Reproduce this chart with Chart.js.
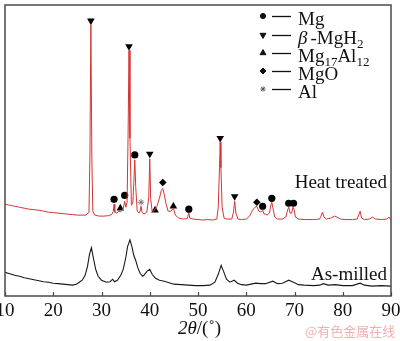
<!DOCTYPE html>
<html>
<head>
<meta charset="utf-8">
<style>
  html, body { margin: 0; padding: 0; background: #fff; }
  #box { width: 400px; height: 341px; }
</style>
</head>
<body>
<div id="box"><canvas id="xrd"></canvas></div>

<script src="https://cdn.jsdelivr.net/npm/chart.js"></script>
<script>
// heat treated pattern (2theta in degrees, intensity in a.u.)
const heatAngle = [10, 11, 12, 13, 14, 15, 16, 17, 18, 19, 20, 21, 22, 23, 24, 25, 26, 26.8, 27.4, 27.6, 27.8, 28.0, 28.2, 28.6,
  29.5, 30.5, 31.5, 32.2, 32.45, 32.6, 32.75, 33.2, 33.6, 33.9, 34.2, 34.5, 34.8, 35.05, 35.3, 35.5, 35.7, 35.9, 36.2, 36.5,
  36.7, 36.9, 37.1, 37.4, 37.8, 38.0, 38.2, 38.4, 38.8, 39.4, 39.8, 40.0, 40.2, 40.5, 40.8, 41.1, 41.5, 42.0, 42.4, 42.7,
  43.0, 43.4, 43.8, 44.4, 44.9, 45.3, 46, 47, 47.8, 48.0, 48.1, 48.3, 49, 50, 51, 52, 53, 53.9, 54.2, 54.45, 54.6, 54.75,
  55.0, 55.4, 56, 57.0, 57.35, 57.6, 57.85, 58.3, 59, 60, 60.7, 61.3, 61.8, 62.2, 62.6, 63.0, 63.4, 63.7, 64.0, 64.3, 64.8,
  65.1, 65.3, 65.5, 65.9, 66.5, 67.5, 68.2, 68.5, 68.8, 69.1, 69.4, 69.7, 69.9, 70.2, 70.8, 72, 73, 74, 75.2, 75.5, 75.8,
  76.1, 76.6, 77.5, 78.3, 78.8, 79.5, 80.5, 82, 83.0, 83.3, 83.6, 83.9, 84.5, 85.5, 86.2, 86.8, 88, 89.2, 89.6, 90];
const heatCounts = [93, 92, 91, 90, 89, 88, 87.5, 87, 86, 85, 84.5, 84, 83.5, 83, 82.5, 82, 82, 82, 85, 140, 275, 140, 86, 82,
  81, 81, 81.5, 83, 86, 93, 85, 84, 86, 85, 87, 89, 96, 90, 95, 160, 249, 160, 92, 95,
  115, 138, 110, 86, 84, 86, 91, 85, 83, 85, 100, 139, 98, 86, 86, 88, 91, 99, 107, 109,
  103, 93, 86, 86, 89, 82, 79, 78, 78.5, 83, 84, 79, 78, 77.5, 77, 77.5, 77, 78, 90, 130, 156, 130,
  90, 79, 78, 78, 85, 96, 84, 78, 77.5, 78, 81, 87, 90, 91, 86, 85, 87, 83, 83, 82, 84,
  92, 95, 90, 80, 78, 78, 80, 86, 90, 84, 84, 90, 88, 80, 78, 77.5, 77.5, 77.5, 78, 81, 85,
  80, 78, 79, 81, 80, 78, 77.5, 77.5, 78, 82, 86, 79, 77.5, 78, 80, 78, 77.5, 78, 80, 77];

// as-milled pattern
const milledAngle = [10, 11, 12, 13, 14, 15, 16, 17, 18, 19, 20, 21, 22, 23, 24, 24.8, 25.4, 26.0, 26.6, 27.1, 27.5, 27.9,
  28.3, 28.8, 29.3, 30.0, 31.0, 31.8, 32.3, 32.7, 33.3, 34.0, 34.5, 35.0, 35.4, 35.9, 36.3, 36.7, 37.1, 37.5, 38.0, 38.5,
  38.8, 39.4, 40.0, 40.5, 41.2, 42, 43, 44, 45, 46.5, 48, 49.5, 51, 52.5, 53.5, 54.2, 54.8, 55.3, 55.9, 56.6, 57.5, 58.2,
  59, 60, 61, 62, 63, 64, 65.5, 66.5, 67.5, 68.8, 69.8, 70.8, 72, 74, 75.2, 76.0, 77, 78.5, 80, 82, 83.6, 84.5, 86, 88, 90];
const milledCounts = [24, 22.5, 21, 20, 18.5, 17.5, 16.5, 15.5, 14.5, 14, 13, 12.5, 12, 11.5, 11, 12, 14, 16, 21, 30, 42, 49,
  39, 27, 20, 16, 14, 14.5, 17, 14.5, 16, 21, 27, 38, 50, 57, 50, 41, 36, 29, 23, 20,
  21, 25, 27, 22, 18, 16, 15, 13.5, 12, 11.5, 11, 10.5, 10.5, 11, 14, 22, 31, 25, 17, 14, 16, 13,
  11.5, 11, 12, 13, 12.5, 12.5, 15, 12.5, 13, 16, 14, 11.5, 11, 10.5, 11, 12.5, 11, 11.5, 10.5, 10.5, 13, 11, 10, 10.5, 10];

// phase markers above the heat treated peaks: [2theta, height]
const mgPeaks = [[32.6, 98], [34.8, 102], [36.9, 143], [48.1, 88], [63.4, 91], [65.3, 99], [68.8, 94], [69.8, 94]];
const mgh2Peaks = [[27.8, 279], [35.7, 253], [40.0, 144], [54.6, 160], [57.6, 101]];
const mg17al12Peaks = [[33.9, 89], [41.1, 87], [44.9, 91]];
const mgoPeaks = [[42.7, 115], [62.2, 95]];
const alPeaks = [[38.2, 95]];

const xTicks = [10, 20, 30, 40, 50, 60, 70, 80, 90];

const serif = '"Liberation Serif", "Times New Roman", serif';

function toXY(xs, ys) {
  return xs.map((x, i) => ({ x: x, y: ys[i] }));
}
function toPts(list) {
  return list.map(p => ({ x: p[0], y: p[1] }));
}

function markerSet(list, style, r, rot, color) {
  return {
    type: 'scatter',
    data: toPts(list),
    showLine: false,
    pointStyle: style,
    pointRadius: r,
    pointRotation: rot,
    pointBackgroundColor: color,
    pointBorderColor: color,
    pointBorderWidth: style === 'star' ? 1 : 0
  };
}

function drawMark(ctx, style, r, rot, x, y, color) {
  ctx.save();
  ctx.fillStyle = color;
  ctx.strokeStyle = color;
  ctx.lineWidth = 1;
  Chart.helpers.drawPoint(ctx, { pointStyle: style, radius: r, rotation: rot, borderWidth: 1 }, x, y);
  ctx.restore();
}

// frame, inward ticks, legend and labels
const decor = {
  id: 'decor',
  afterDraw(chart) {
    const ctx = chart.ctx;
    const a = chart.chartArea;
    const xs = chart.scales.x;
    ctx.save();
    ctx.strokeStyle = '#4a4a4a';
    ctx.lineWidth = 1.5;
    ctx.strokeRect(a.left, a.top, a.right - a.left, a.bottom - a.top);
    ctx.lineWidth = 1.2;
    xTicks.forEach(t => {
      const px = Math.round(xs.getPixelForValue(t)) + 0.5;
      ctx.beginPath();
      ctx.moveTo(px, a.bottom);
      ctx.lineTo(px, a.bottom - 4);
      ctx.stroke();
    });

    // legend
    const rows = [
      { style: 'circle', r: 2.6, rot: 0, col: '#111', y: 16 },
      { style: 'triangle', r: 3.4, rot: 180, col: '#111', y: 35 },
      { style: 'triangle', r: 3.4, rot: 0, col: '#111', y: 53 },
      { style: 'rectRot', r: 3, rot: 0, col: '#111', y: 71 },
      { style: 'star', r: 2.6, rot: 0, col: '#555', y: 89 }
    ];
    rows.forEach(row => {
      drawMark(ctx, row.style, row.r, row.rot, 263, row.y, row.col);
      ctx.strokeStyle = '#111';
      ctx.lineWidth = 1.3;
      ctx.beginPath();
      ctx.moveTo(272, row.y + 0.5);
      ctx.lineTo(291, row.y + 0.5);
      ctx.stroke();
    });

    ctx.fillStyle = '#111';
    ctx.textBaseline = 'alphabetic';
    ctx.textAlign = 'left';
    const big = '19px ' + serif;
    const small = '13px ' + serif;
    let x;
    ctx.font = big;
    ctx.fillText('Mg', 298, 25);

    ctx.font = 'italic ' + big;
    ctx.fillText('\u03b2', 298, 44);
    x = 298 + ctx.measureText('\u03b2').width + 3;
    ctx.font = big;
    ctx.fillText('-MgH', x, 44);
    x += ctx.measureText('-MgH').width;
    ctx.font = small;
    ctx.fillText('2', x, 48);

    ctx.font = big;
    ctx.fillText('Mg', 298, 62);
    x = 298 + ctx.measureText('Mg').width;
    ctx.font = small;
    ctx.fillText('17', x, 66);
    x += ctx.measureText('17').width;
    ctx.font = big;
    ctx.fillText('Al', x, 62);
    x += ctx.measureText('Al').width;
    ctx.font = small;
    ctx.fillText('12', x, 66);

    ctx.font = big;
    ctx.fillText('MgO', 298, 80);
    ctx.fillText('Al', 298, 98);

    // series names
    ctx.textAlign = 'right';
    ctx.fillText('Heat treated', 387, 188);
    ctx.fillText('As-milled', 387, 280);

    // axis title
    ctx.textAlign = 'left';
    ctx.font = 'italic ' + big;
    ctx.fillText('2\u03b8', 178, 334);
    x = 178 + ctx.measureText('2\u03b8').width;
    ctx.font = big;
    ctx.fillText('/(\u02da)', x, 334);

    // watermark
    ctx.fillStyle = 'rgba(236, 150, 150, 0.75)';
    ctx.font = '13px "Noto Sans CJK SC", sans-serif';
    ctx.fillText('@有色金属在线', 305, 336);
    ctx.restore();
  }
};

new Chart(document.getElementById('xrd'), {
  type: 'line',
  data: {
    datasets: [
      {
        label: 'Heat treated',
        data: toXY(heatAngle, heatCounts),
        borderColor: 'rgb(214, 52, 52)',
        borderWidth: 1,
        pointRadius: 0,
        tension: 0
      },
      {
        label: 'As-milled',
        data: toXY(milledAngle, milledCounts),
        borderColor: 'rgb(25, 25, 25)',
        borderWidth: 1.1,
        pointRadius: 0,
        tension: 0
      },
      markerSet(mgPeaks, 'circle', 3.6, 0, '#000'),
      markerSet(mgh2Peaks, 'triangle', 4.4, 180, '#000'),
      markerSet(mg17al12Peaks, 'triangle', 4.4, 0, '#000'),
      markerSet(mgoPeaks, 'rectRot', 3.8, 0, '#000'),
      markerSet(alPeaks, 'star', 3.2, 0, '#777')
    ]
  },
  options: {
    responsive: true,
    maintainAspectRatio: false,
    animation: false,
    layout: { padding: { left: 2, right: 9, top: 1, bottom: 0 } },
    plugins: {
      legend: { display: false },
      tooltip: { enabled: false }
    },
    scales: {
      x: {
        type: 'linear',
        min: 10,
        max: 90,
        afterBuildTicks: s => { s.ticks = xTicks.map(v => ({ value: v })); },
        afterFit: s => { s.height = 45; s.paddingLeft = 0; s.paddingRight = 0; },
        grid: { display: false, drawTicks: false },
        border: { display: false },
        ticks: {
          padding: 4,
          color: '#111',
          font: { family: serif, size: 19 },
          maxRotation: 0
        }
      },
      y: {
        display: false,
        min: 0,
        max: 295
      }
    }
  },
  plugins: [decor]
});
</script>
</body>
</html>
